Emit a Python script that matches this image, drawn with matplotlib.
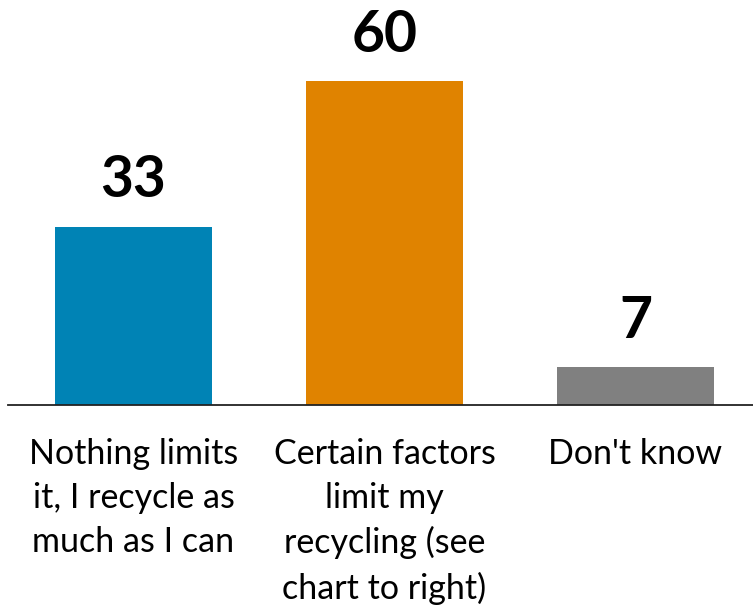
import matplotlib.pyplot as plt

categories = ["Nothing limits\nit, I recycle as\nmuch as I can",
              "Certain factors\nlimit my\nrecycling (see\nchart to right)",
              "Don't know"]
values = [33, 60, 7]
colors = ["#0083B5", "#E08300", "#808080"]

plt.rcParams['font.family'] = ['Lato', 'DejaVu Sans']

fig = plt.figure(figsize=(7.53, 6.08), dpi=100)
ax = fig.add_axes([8 / 753, 203 / 608, 753 / 753, 405 / 608])

x = range(len(values))
bars = ax.bar(x, values, width=0.625, color=colors)
ax.set_xlim(-0.5, 2.5)
ax.set_ylim(0, 75)

for b, v in zip(bars, values):
    ax.annotate(str(v), (b.get_x() + b.get_width() / 2, v),
                xytext=(0, 14), textcoords="offset points",
                ha="center", va="bottom", fontsize=41, fontweight="bold")

ax.set_xticks(list(x))
ax.set_xticklabels(categories, fontsize=24.5, linespacing=1.45, va="top")
ax.tick_params(axis="x", length=0, pad=24)
ax.set_yticks([])
for s in ["top", "right", "left"]:
    ax.spines[s].set_visible(False)
ax.spines["bottom"].set_linewidth(1.3)
ax.spines["bottom"].set_color("#222222")

fig.savefig("out.png", dpi=100)
